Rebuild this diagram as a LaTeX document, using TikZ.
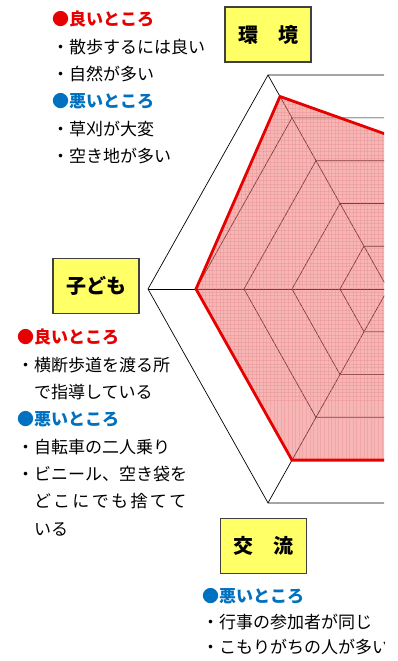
\documentclass[tikz,border=0pt]{standalone}
\usepackage{fontspec}
\newfontfamily\jp{Noto Sans CJK JP}
\definecolor{goodred}{RGB}{230,0,0}
\definecolor{badblue}{RGB}{0,112,192}
\definecolor{boxyellow}{RGB}{255,255,102}
\definecolor{datafill}{RGB}{240,110,110}
\definecolor{meshpink}{RGB}{225,130,130}
\newcommand{\good}{\textcolor{goodred}{\bfseries ●良いところ}}
\newcommand{\bad}{\textcolor{badblue}{\bfseries ●悪いところ}}
\tikzset{
  labelbox/.style={draw=black!75, line width=1.2pt, fill=boxyellow, minimum width=86, minimum height=55, inner sep=0pt, font=\jp\bfseries\fontsize{20}{24}\selectfont},
  notes/.style={anchor=north west, inner sep=0pt, align=left, font=\jp\fontsize{17}{27.3}\selectfont},
  gridline/.style={black, line width=0.7pt},
  dataline/.style={goodred, line width=2.8pt, line join=miter},
}

\begin{document}
\begin{tikzpicture}[x=1pt, y=-1pt]
  \useasboundingbox (0,0) rectangle (398,661);
  \clip (0,0) rectangle (384,661);
  % grid of the chart
  \coordinate (c) at (388,289);
  \foreach \k in {1,...,5}
    \draw [gridline] plot [samples at={0,60,...,300}] ({388+48*\k*cos(\x)},{289+49.4*\k*sin(\x)}) -- cycle;
  \foreach \a in {0,60,...,300} {
    \coordinate (ax\a) at ({388+240*cos(\a)},{289+247*sin(\a)});
    \draw [gridline] (c) -- (ax\a);
  }
  % data
  \foreach \a/\v in {0/0.7, 60/0.8, 120/0.8, 180/0.8, 240/0.9, 300/0.6}
    \coordinate (d\a) at ({388+240*\v*cos(\a)},{289+247*\v*sin(\a)});
  \fill [datafill, opacity=0.5] (d0) -- (d60) -- (d120) -- (d180) -- (d240) -- (d300) -- cycle;
  \begin{scope}
    \clip (d0) -- (d60) -- (d120) -- (d180) -- (d240) -- (d300) -- cycle;
    \foreach \m in {0,3.6,...,400} {
      \draw [meshpink, line width=0.2pt, opacity=0.3] (\m,0) -- (\m,661);
      \draw [meshpink, line width=0.2pt, opacity=0.3] (0,\m) -- (400,\m);
    }
  \end{scope}
  \draw [dataline] (d0) -- (d60) -- (d120) -- (d180) -- (d240) -- (d300) -- cycle;
  % labels
  \node [labelbox] (env) at (268,34.5) {環\hspace{1em}境};
  \node [labelbox] (kids) at (96,286) {子ども};
  \node [labelbox] (exch) at (263.5,546) {交\hspace{1em}流};
  % notes
  \node [notes] (envnotes) at (52,6.6) {\strut\good\\・散歩するには良い\\・自然が多い\\\bad\\・草刈が大変\\・空き地が多い};
  \node [notes] (kidsnotes) at (17,324.6) {\strut\good\\・横断歩道を渡る所\\\hspace{1em}で指導している\\\bad\\・自転車の二人乗り\\・ビニール、空き袋を\\\hspace{1em}{\addfontfeature{LetterSpace=14}どこにでも捨てて}\\\hspace{1em}いる};
  \node [notes, font=\jp\fontsize{17}{25.5}\selectfont] (exchnotes) at (202,584.6) {\strut\bad\\・行事の参加者が同じ\\・こもりがちの人が多い};
\end{tikzpicture}
\end{document}
